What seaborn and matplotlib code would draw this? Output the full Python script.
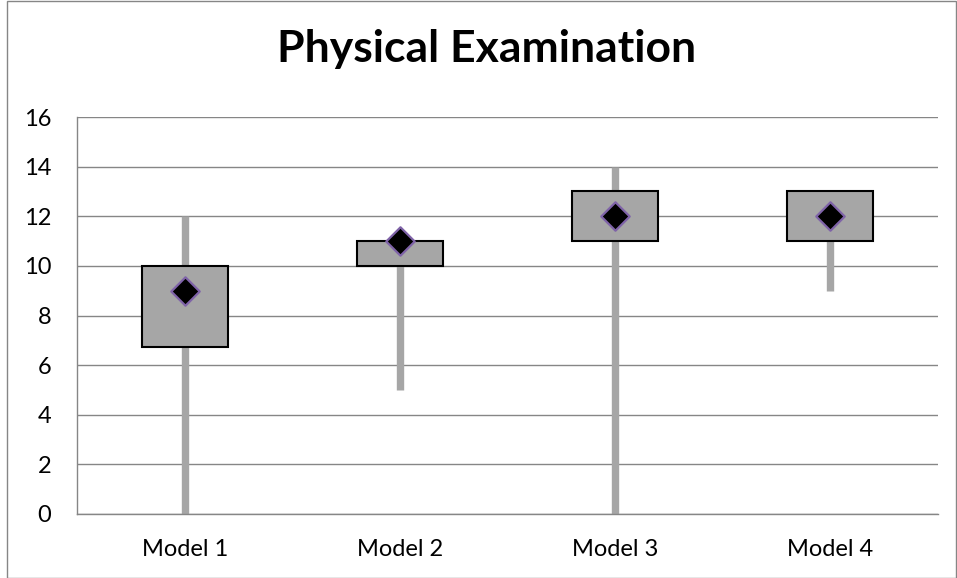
import matplotlib
matplotlib.use("Agg")
import matplotlib.pyplot as plt
import matplotlib.patches as mpatches
import numpy as np
import pandas as pd
import seaborn as sns

# ------------------------------------------------------------------------------
# Data
# ------------------------------------------------------------------------------

models = ["Model 1", "Model 2", "Model 3", "Model 4"]
whisker_low = [0, 5, 0, 9]
whisker_high = [12, 11, 14, 13]
box_low = [6.75, 10, 11, 11]
box_high = [10, 11, 13, 13]
means = [9, 11, 12, 12]
y_ticks = [0, 2, 4, 6, 8, 10, 12, 14, 16]

df = pd.DataFrame({
    "model": models,
    "lo": whisker_low,
    "hi": whisker_high,
    "q1": box_low,
    "q3": box_high,
    "mean": means,
})

# ------------------------------------------------------------------------------
# Plot
# ------------------------------------------------------------------------------

sns.set_style("white")
plt.rcParams["font.family"] = ["Lato", "DejaVu Sans"]
plt.rcParams["text.color"] = "black"
plt.rcParams["xtick.color"] = "black"
plt.rcParams["ytick.color"] = "black"

fig = plt.figure(figsize=(9.57, 5.78), dpi=100)
ax = fig.add_axes([77 / 957, 64 / 578, 861 / 957, 397 / 578])

pos = np.arange(len(df))

# whiskers behind the boxes
ax.vlines(pos, df["lo"], df["hi"], color="#a6a6a6", linewidth=5.3, zorder=2)

# boxes
ax.bar(
    pos,
    df["q3"] - df["q1"],
    bottom=df["q1"],
    width=0.40,
    color="#a6a6a6",
    edgecolor="black",
    linewidth=1.5,
    zorder=3,
)

# means
sns.scatterplot(
    x=pos,
    y=df["mean"],
    marker="D",
    s=210,
    color="black",
    edgecolor="#7f63a8",
    linewidth=1.6,
    zorder=4,
    ax=ax,
)

# ===== Axes styling =====
ax.set_xlim(-0.5, len(df) - 0.5)
ax.set_ylim(0, 16)
ax.set_yticks(y_ticks)
ax.set_yticklabels([str(t) for t in y_ticks], fontsize=17)
ax.set_xticks(pos)
ax.set_xticklabels(models, fontsize=17)
ax.set_xticks(np.arange(-0.5, len(df), 1), minor=True)
ax.tick_params(axis="x", which="major", length=0, pad=18)
ax.tick_params(axis="x", which="minor", length=6.5, color="#868686", width=1)
ax.tick_params(axis="y", length=6.5, color="#868686", width=1, pad=12)

ax.set_axisbelow(True)
ax.yaxis.grid(True, color="#868686", linewidth=1)
ax.xaxis.grid(False)

for side in ["top", "right"]:
    ax.spines[side].set_visible(False)
for side in ["left", "bottom"]:
    ax.spines[side].set_color("#868686")
    ax.spines[side].set_linewidth(1)

ax.set_xlabel("")
ax.set_ylabel("")

fig.text(
    487 / 957, 1 - 49 / 578,
    "Physical Examination",
    ha="center", va="center",
    fontsize=32, fontweight="bold",
)

# chart border
fig.patches.append(mpatches.Rectangle(
    (7 / 957, 0.5 / 578), 948.5 / 957, 577 / 578,
    transform=fig.transFigure, fill=False,
    edgecolor="#868686", linewidth=1,
))

fig.savefig("out.png", dpi=100)
